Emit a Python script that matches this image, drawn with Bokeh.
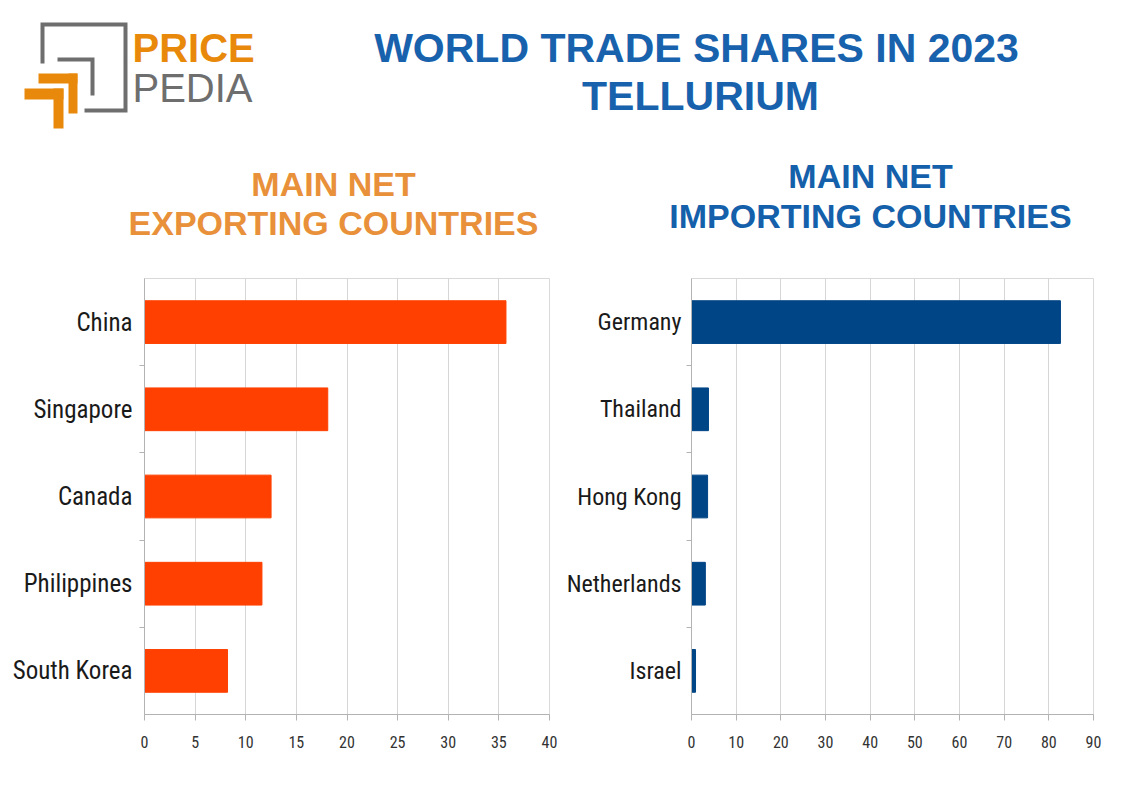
from bokeh.plotting import figure
from bokeh.layouts import column, row
from bokeh.models import Range1d, FixedTicker
from bokeh.core.properties import value
from bokeh.embed import file_html
from bokeh.resources import INLINE

# ---------------- data ----------------
exp_countries = ["China", "Singapore", "Canada", "Philippines", "South Korea"]
exp_shares = [35.7, 18.1, 12.5, 11.6, 8.2]
exp_ticks = [0, 5, 10, 15, 20, 25, 30, 35, 40]

imp_countries = ["Germany", "Thailand", "Hong Kong", "Netherlands", "Israel"]
imp_shares = [82.6, 3.8, 3.6, 3.1, 0.9]
imp_ticks = [0, 10, 20, 30, 40, 50, 60, 70, 80, 90]

main_title = ["WORLD TRADE SHARES IN 2023", "TELLURIUM"]
exp_title = ["MAIN NET", "EXPORTING COUNTRIES"]
imp_title = ["MAIN NET", "IMPORTING COUNTRIES"]

NARROW = "Roboto Condensed, DejaVu Sans Condensed, Liberation Sans Narrow, Arial Narrow, Liberation Sans"
SANS = "Liberation Sans"

# ---------------- header (logo + titles) ----------------
W, HH = 1121, 262
hdr = figure(width=W, height=HH, x_range=Range1d(0, W), y_range=Range1d(HH, 0),
             output_backend="svg", toolbar_location=None,
             x_axis_type=None, y_axis_type=None, min_border=0)
hdr.grid.visible = False
hdr.outline_line_color = None

gray = "#6e6e6e"
orange_logo = "#e8890c"
# logo: gray square outline (open at bottom-left) and inner bracket
hdr.line(x=[42, 42, 125, 125, 84], y=[63, 24, 24, 110, 110], line_color=gray, line_width=4, line_join="miter")
hdr.line(x=[57, 92, 92], y=[59, 59, 95], line_color=gray, line_width=4, line_join="miter")
# orange chevrons
hdr.quad(left=[38, 68, 24, 53], right=[77, 77, 63, 63], top=[73, 73, 88, 88], bottom=[83, 113, 99, 128],
         fill_color=orange_logo, line_color=None)
hdr.text(x=[132], y=[47], text=["PRICE"], text_font=value(SANS), text_font_style="bold",
         text_font_size="40px", text_color=orange_logo, text_align="left", text_baseline="alphabetic")
hdr.text(x=[132], y=[87], text=["PEDIA"], text_font=value(SANS), text_font_style="normal",
         text_font_size="40px", text_color=gray, text_align="left", text_baseline="alphabetic")

blue_title = "#1862ad"
hdr.text(x=[696, 700], y=[47, 95], text=main_title, text_font=value(SANS), text_font_style="bold",
         text_font_size="41px", text_color=blue_title, text_align="center", text_baseline="alphabetic")
hdr.text(x=[333, 333], y=[183, 222], text=exp_title, text_font=value(SANS), text_font_style="bold",
         text_font_size="34px", text_color="#e8913a", text_align="center", text_baseline="alphabetic")
hdr.text(x=[870, 870], y=[175, 215], text=imp_title, text_font=value(SANS), text_font_style="bold",
         text_font_size="34px", text_color="#1560aa", text_align="center", text_baseline="alphabetic")


# ---------------- bar charts ----------------
def make_chart(cats, vals, xticks, color, width, height, bl, br, bt, bb, label_size, label_standoff):
    n = len(cats)
    pos = [n - i - 0.5 for i in range(n)]
    p = figure(width=width, height=height,
               x_range=Range1d(xticks[0], xticks[-1]), y_range=Range1d(0, n),
               output_backend="svg", toolbar_location=None,
               min_border_left=bl, min_border_right=br, min_border_top=bt, min_border_bottom=bb)
    p.hbar(y=pos, left=0, right=vals, height=0.49, fill_color=color, line_color=color)
    p.outline_line_color = "#d9d9d9"
    p.outline_line_width = 1

    # x axis
    xa = p.xaxis[0]
    xa.ticker = FixedTicker(ticks=xticks)
    xa.axis_line_color = "#b3b3b3"
    xa.major_tick_line_color = "#b3b3b3"
    xa.major_tick_in = 0
    xa.major_tick_out = 6
    xa.minor_tick_line_color = None
    xa.major_label_text_font = NARROW
    xa.major_label_text_font_size = "16px"
    xa.major_label_text_color = "#333333"
    xa.major_label_standoff = 15

    # y axis: labels at category centres, tick marks at boundaries
    ya = p.yaxis[0]
    ya.ticker = FixedTicker(ticks=pos, minor_ticks=list(range(1, n)))
    ya.major_label_overrides = {pv: c for pv, c in zip(pos, cats)}
    ya.axis_line_color = "#b3b3b3"
    ya.major_tick_line_color = None
    ya.major_tick_in = 0
    ya.major_tick_out = 0
    ya.minor_tick_line_color = "#b3b3b3"
    ya.minor_tick_in = 0
    ya.minor_tick_out = 5
    ya.major_label_text_font = NARROW
    ya.major_label_text_font_size = label_size
    ya.major_label_text_color = "#1a1a1a"
    ya.major_label_standoff = label_standoff

    p.xgrid.ticker = FixedTicker(ticks=xticks)
    p.xgrid.grid_line_color = "#d6d6d6"
    p.ygrid.grid_line_color = None
    return p


left = make_chart(exp_countries, exp_shares, exp_ticks, "#ff4000",
                  560, 793 - HH, 144, 11, 278 - HH, 71, "25px", 7)
right = make_chart(imp_countries, imp_shares, imp_ticks, "#004586",
                   561, 793 - HH, 131, 28, 270 - HH, 79, "24px", 5)

layout = column(hdr, row(left, right, spacing=0), spacing=0)
open("out.html", "w").write(file_html(layout, INLINE))
